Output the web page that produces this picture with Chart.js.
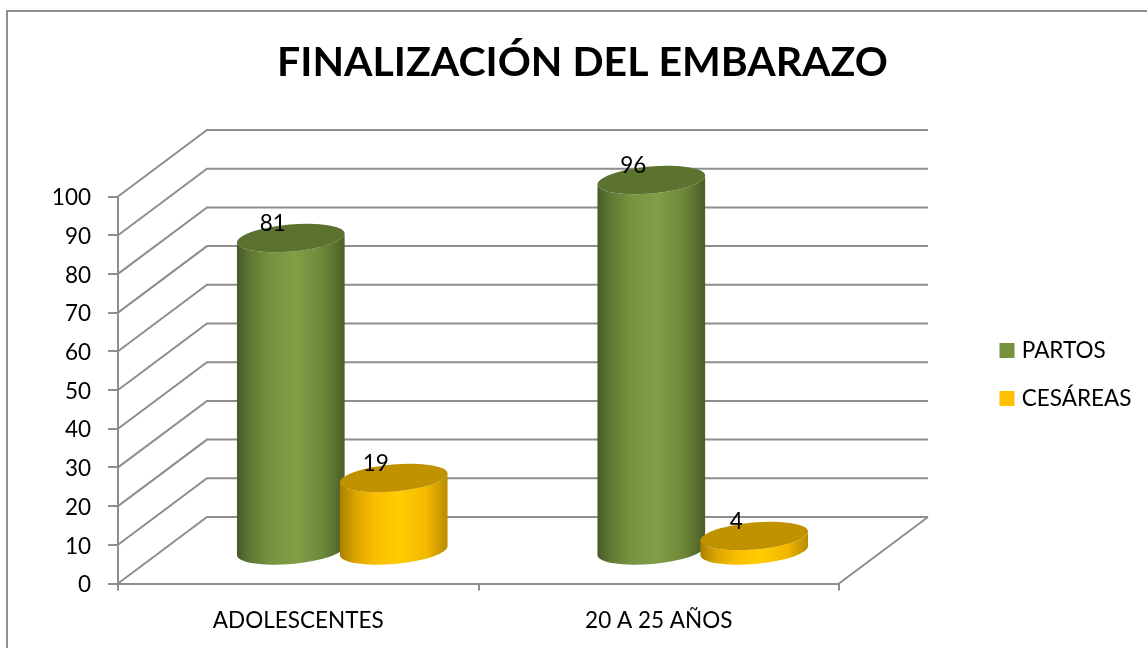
<!DOCTYPE html>
<html><head><meta charset="utf-8">
<style>html,body{margin:0;padding:0;background:#fff;overflow:hidden}#wrap{position:absolute;left:0;top:0;width:1147px;height:648px}</style>
<script src="https://cdn.jsdelivr.net/npm/chart.js@4/dist/chart.umd.js"></script>
</head><body><div id="wrap"><canvas id="c" width="1147" height="648"></canvas></div>
<script>
const categories = ["ADOLESCENTES", "20 A 25 AÑOS"];
const partos = [81, 96];
const cesareas = [19, 4];
const yTicks = [0,10,20,30,40,50,60,70,80,90,100];
const titleText = "FINALIZACIÓN DEL EMBARAZO";
const FONT = "Lato";
const GRID = "#8e8e8e";
const DX = 89, DY = -66.5, BX = 44, BY = -32, RY = 13.5, TILT = -5*Math.PI/180;
const palette = [
  {stops:[[0,"#47592a"],[.12,"#5f7732"],[.3,"#759240"],[.55,"#819f46"],[.8,"#6d873a"],[1,"#4a5e26"]],top:"#5c722f"},
  {stops:[[0,"#a87f00"],[.15,"#dca600"],[.35,"#fcbf00"],[.55,"#ffcd00"],[.8,"#f4b800"],[1,"#b88b00"]],top:"#c09200"}
];
function cylinder(ctx, cx, yTop, yBase, rx, p){
  const c = Math.cos(TILT)*rx, s = Math.sin(TILT)*rx;
  const g = ctx.createLinearGradient(cx-rx,0,cx+rx,0);
  p.stops.forEach(st=>g.addColorStop(st[0],st[1]));
  ctx.beginPath();
  ctx.ellipse(cx,yBase,rx,RY,TILT,0,Math.PI);
  ctx.lineTo(cx-c,yTop-s);
  ctx.ellipse(cx,yTop,rx,RY,TILT,Math.PI,0,true);
  ctx.closePath();
  ctx.fillStyle=g; ctx.fill();
  ctx.beginPath();
  ctx.ellipse(cx,yTop,rx,RY,TILT,0,Math.PI*2);
  ctx.fillStyle=p.top; ctx.fill();
}
const threeD = {
  id:"threeD",
  beforeLayout(chart){
    const lg = chart.legend;
    if(lg && !lg._wrapped){
      const f = lg.fit;
      lg.fit = function(){ f.call(this); this.width = 308; };
      lg._wrapped = true;
    }
  },
  afterLayout(chart){
    const lg = chart.legend;
    lg.left = 978; lg.right = 1147; lg.top = 313.75; lg.bottom = 480;
  },
  beforeDraw(chart){
    const ctx = chart.ctx;
    ctx.save();
    ctx.strokeStyle = GRID; ctx.lineWidth = 2;
    ctx.strokeRect(7,11,1160,660);
    ctx.restore();
  },
  beforeDatasetsDraw(chart){
    const {ctx,scales:{x,y}} = chart;
    ctx.save();
    ctx.strokeStyle = GRID; ctx.lineWidth = 2;
    yTicks.forEach(v=>{
      const py = y.getPixelForValue(v);
      ctx.beginPath();
      ctx.moveTo(x.left,py);
      ctx.lineTo(x.left+DX,py+DY);
      ctx.lineTo(x.right+DX,py+DY);
      ctx.stroke();
    });
    const py0 = y.getPixelForValue(0);
    ctx.beginPath();
    ctx.moveTo(x.right,py0);
    ctx.lineTo(x.right+DX,py0+DY);
    ctx.stroke();
    ctx.restore();
  },
  beforeDatasetDraw(){ return false; },
  afterDatasetsDraw(chart){
    const ctx = chart.ctx;
    ctx.save();
    chart.data.datasets.forEach((d,i)=>{
      chart.getDatasetMeta(i).data.forEach(b=>{
        cylinder(ctx,b.x+BX,b.y+BY,b.base+BY,b.width/2,palette[i]);
      });
    });
    ctx.fillStyle="#000";
    ctx.font="22.5px "+FONT;
    ctx.textAlign="center"; ctx.textBaseline="middle";
    chart.data.datasets.forEach((d,i)=>{
      chart.getDatasetMeta(i).data.forEach((b,j)=>{
        ctx.fillText(String(d.data[j]),b.x+BX-18,b.y+BY-14.5);
      });
    });
    ctx.restore();
  }
};
new Chart(document.getElementById("c"),{
  type:"bar",
  data:{labels:categories,datasets:[
    {label:"PARTOS",data:partos,backgroundColor:"#76923c",categoryPercentage:0.571,barPercentage:1.05},
    {label:"CESÁREAS",data:cesareas,backgroundColor:"#ffc000",categoryPercentage:0.571,barPercentage:1.05}
  ]},
  options:{
    responsive:false,animation:false,
    layout:{padding:{left:18,right:0,top:0,bottom:0}},
    plugins:{
      title:{display:true,text:titleText,color:"#000",font:{family:FONT,size:41,weight:"bold",lineHeight:1.2},padding:{top:38,bottom:109.3}},
      legend:{display:true,position:"right",align:"start",labels:{usePointStyle:true,pointStyle:"rect",boxWidth:7,boxHeight:15,padding:25.5,color:"#000",font:{family:FONT,size:22.5}}},
      tooltip:{enabled:false}
    },
    scales:{
      x:{
        border:{display:true,color:GRID,width:2},
        grid:{display:true,offset:true,drawOnChartArea:false,drawTicks:true,tickLength:7,color:GRID,lineWidth:2},
        ticks:{color:"#000",font:{family:FONT,size:22.5},padding:16.5,maxRotation:0},
        afterFit(s){s.height=64.5;}
      },
      y:{
        min:0,max:100,
        border:{display:true,color:GRID,width:2},
        grid:{display:true,drawOnChartArea:false,drawTicks:true,tickLength:10,color:GRID,lineWidth:2},
        ticks:{color:"#000",font:{family:FONT,size:22.5},padding:17,stepSize:10,labelOffset:1.5},
        afterFit(s){s.width=100;}
      }
    }
  },
  plugins:[threeD]
});
</script></body></html>
